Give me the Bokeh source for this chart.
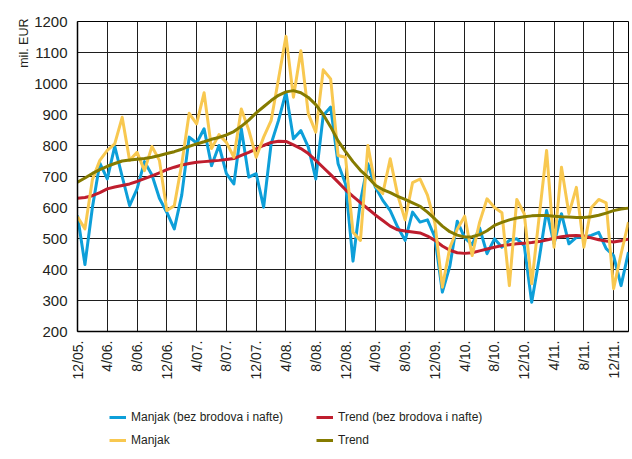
from math import pi
from bokeh.plotting import figure
from bokeh.layouts import column
from bokeh.models import FixedTicker, Legend, LegendItem, Range1d, Title
from bokeh.embed import file_html
from bokeh.resources import INLINE

tick_labels = ["12/05.", "4/06.", "8/06.", "12/06.", "4/07.", "8/07.", "12/07.",
               "4/08.", "8/08.", "12/08.", "4/09.", "8/09.", "12/09.", "4/10.",
               "8/10.", "12/10.", "4/11.", "8/11.", "12/11."]

manjak_bez = [574, 416, 600, 743, 692, 797, 700, 606, 660, 748, 705, 630, 584, 531, 640,
              827, 808, 854, 735, 800, 709, 676, 854, 698, 709, 601, 805, 881, 972, 822,
              848, 795, 692, 897, 924, 741, 676, 427, 620, 741, 666, 623, 590, 537, 494,
              585, 553, 560, 504, 327, 410, 556, 502, 480, 534, 451, 499, 472, 494, 499,
              477, 294, 434, 590, 483, 580, 483, 504, 504, 510, 520, 467, 445, 348, 456]

trend_bez = [630, 632, 638, 648, 660, 666, 671, 676, 684, 693, 702, 712, 722, 730, 737,
             742, 746, 748, 750, 752, 755, 758, 768, 778, 789, 800, 810, 814, 813, 802,
             790, 774, 752, 729, 706, 682, 657, 636, 616, 596, 576, 558, 540, 528, 524,
             521, 518, 508, 494, 476, 462, 454, 452, 454, 460, 466, 472, 477, 480, 483,
             485, 487, 490, 495, 501, 506, 509, 510, 508, 502, 496, 492, 489, 493, 498]

manjak = [570, 531, 690, 752, 784, 805, 891, 752, 778, 719, 797, 752, 590, 606, 740,
          904, 870, 970, 790, 835, 810, 762, 918, 850, 762, 827, 880, 1015, 1152, 956,
          1106, 902, 843, 1044, 1015, 768, 762, 520, 494, 800, 670, 645, 757, 640, 560,
          680, 692, 640, 550, 343, 470, 530, 572, 445, 552, 628, 600, 583, 348, 626,
          580, 354, 570, 784, 472, 730, 580, 665, 472, 599, 626, 615, 338, 450, 553]

trend = [682, 695, 710, 722, 733, 742, 750, 753, 756, 758, 762, 768, 774, 780, 788,
         797, 805, 812, 820, 826, 834, 845, 862, 882, 905, 925, 945, 962, 973, 977,
         970, 955, 932, 900, 860, 815, 780, 748, 720, 698, 672, 658, 648, 636, 626,
         615, 604, 585, 563, 540, 522, 511, 505, 506, 512, 525, 542, 552, 560, 566,
         570, 573, 574, 574, 572, 570, 569, 568, 568, 570, 575, 582, 590, 595, 598]

series_labels = ["Manjak (bez brodova i nafte)", "Trend (bez brodova i nafte)",
                 "Manjak", "Trend"]

months = list(range(len(manjak)))
tick_pos = [4 * i for i in range(len(tick_labels))]

BLUE = "#0d9fd9"
YELLOW = "#f8c850"
RED = "#bf1e2e"
OLIVE = "#857b00"
TXT = "#231f20"
FONT = "Liberation Sans"

# ---------------- main chart ----------------
p = figure(width=632, height=395, output_backend="svg", toolbar_location=None,
           x_range=Range1d(0, len(manjak) - 1), y_range=Range1d(200, 1200),
           min_border_left=77, min_border_right=4, min_border_top=21,
           min_border_bottom=64)
p.background_fill_color = None
p.border_fill_color = None
p.outline_line_color = "black"
p.outline_line_width = 1

p.line(months, manjak_bez, line_color=BLUE, line_width=3, line_join="round")
p.line(months, trend_bez, line_color=RED, line_width=3, line_join="round")
p.line(months, manjak, line_color=YELLOW, line_width=3, line_join="round")
p.line(months, trend, line_color=OLIVE, line_width=3, line_join="round")

xt = FixedTicker(ticks=tick_pos)
yt = FixedTicker(ticks=list(range(200, 1201, 100)))
p.xaxis.ticker = xt
p.xgrid.ticker = xt
p.yaxis.ticker = yt
p.ygrid.ticker = yt
p.xaxis.major_label_overrides = {t: l for t, l in zip(tick_pos, tick_labels)}
p.xaxis.major_label_orientation = pi / 2

for ax in (p.xaxis, p.yaxis):
    ax.axis_line_color = "black"
    ax.axis_line_width = 1.5
    ax.major_tick_out = 0
    ax.major_tick_in = 0
    ax.minor_tick_line_color = None
    ax.major_label_text_font = FONT
    ax.major_label_text_color = TXT
p.xaxis.major_label_text_font_size = "14px"
p.xaxis.major_label_standoff = 9
p.yaxis.major_label_text_font_size = "15px"
p.yaxis.major_label_standoff = 10

for g in (p.xgrid, p.ygrid):
    g.grid_line_color = "#1e1e1e"
    g.grid_line_width = 1
    g.grid_line_alpha = 1

p.add_layout(Title(text="mil. EUR", align="right", text_font=FONT,
                   text_font_size="12.5px", text_font_style="normal", text_color=TXT,
                   standoff=2, offset=-3), "left")

# ---------------- legend strip ----------------
# the same series are drawn here outside the visible range, only to feed the legend
q = figure(width=632, height=64, output_backend="svg", toolbar_location=None,
           x_range=Range1d(0, 1), y_range=Range1d(0, 1),
           min_border_left=0, min_border_right=0, min_border_top=0, min_border_bottom=0)
q.axis.visible = False
q.grid.visible = False
q.outline_line_color = None
q.background_fill_color = None
q.border_fill_color = None

colors = [BLUE, RED, YELLOW, OLIVE]
values = [manjak_bez, trend_bez, manjak, trend]
rends = [q.line(months, v, line_color=c, line_width=3) for v, c in zip(values, colors)]

legend = Legend(items=[LegendItem(label=series_labels[0], renderers=[rends[0]]),
                       LegendItem(label=series_labels[2], renderers=[rends[2]]),
                       LegendItem(label=series_labels[1], renderers=[rends[1]]),
                       LegendItem(label=series_labels[3], renderers=[rends[3]])],
                orientation="vertical", ncols=2, location=(32, 9))
legend.glyph_width = 17
legend.glyph_height = 20
legend.label_height = 20
legend.label_width = 182
legend.spacing = 3
legend.padding = 0
legend.margin = 0
legend.label_standoff = 5
legend.border_line_color = None
legend.background_fill_alpha = 0
legend.label_text_font = FONT
legend.label_text_font_size = "12px"
legend.label_text_color = TXT
q.add_layout(legend)

layout = column(p, q, spacing=0)
open("out.html", "w").write(file_html(layout, INLINE))
